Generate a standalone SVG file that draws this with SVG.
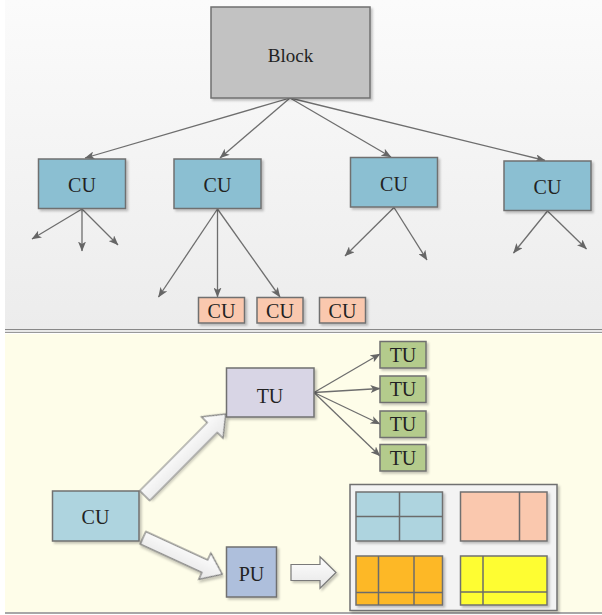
<svg xmlns="http://www.w3.org/2000/svg" width="602" height="615" viewBox="0 0 602 615">
<defs>
<linearGradient id="topbg" x1="0" y1="0" x2="0" y2="1">
<stop offset="0" stop-color="#fbfbfb"/>
<stop offset="1" stop-color="#ececec"/>
</linearGradient>
<linearGradient id="fat" x1="0" y1="0" x2="0" y2="1">
<stop offset="0" stop-color="#ffffff"/>
<stop offset="1" stop-color="#e6e6e6"/>
</linearGradient>
<filter id="sh" x="-10%" y="-10%" width="130%" height="130%">
<feDropShadow dx="2" dy="2" stdDeviation="1.2" flood-color="#000" flood-opacity="0.22"/>
</filter>
<marker id="ah" viewBox="0 0 10 8" refX="9.5" refY="4" markerWidth="10" markerHeight="8" markerUnits="userSpaceOnUse" orient="auto">
<path d="M0,0 L10,4 L0,8 L2.5,4 Z" fill="#666"/>
</marker>
<style>
.box{stroke:#707070;stroke-width:1.5;filter:url(#sh)}
.t{font-family:'Liberation Serif','Times New Roman',serif;font-size:20px;fill:#222;text-anchor:middle}
.s{font-size:19px}
.ln{stroke:#6e6e6e;stroke-width:1.3;fill:none;marker-end:url(#ah)}
.fat{fill:url(#fat);stroke:#7a7a7a;stroke-width:1.2;filter:url(#sh)}
.part{stroke:#6b6b6b;stroke-width:1.5;fill:none}
</style>
</defs>

<rect x="0" y="0" width="602" height="615" fill="#ffffff"/>
<rect x="5" y="0" width="597" height="329" fill="url(#topbg)"/>
<rect x="5" y="334" width="597" height="278" fill="#fefde9"/>
<line x1="5" y1="329.5" x2="602" y2="329.5" stroke="#888" stroke-width="1.2"/>
<line x1="5" y1="331" x2="602" y2="331" stroke="#d0d0d0" stroke-width="1"/>
<line x1="5" y1="332.5" x2="602" y2="332.5" stroke="#999" stroke-width="1.2"/>
<line x1="5" y1="613" x2="602" y2="613" stroke="#8a8a8a" stroke-width="1.5"/>

<g id="connectors">
<line class="ln" x1="290" y1="98" x2="85" y2="158"/>
<line class="ln" x1="290" y1="98" x2="220" y2="158"/>
<line class="ln" x1="290" y1="98" x2="391" y2="157"/>
<line class="ln" x1="290" y1="98" x2="545" y2="160.5"/>
<line class="ln" x1="82" y1="209" x2="32" y2="239"/>
<line class="ln" x1="82" y1="209" x2="82" y2="251"/>
<line class="ln" x1="82" y1="209" x2="118" y2="245"/>
<line class="ln" x1="217.5" y1="209" x2="158.5" y2="297"/>
<line class="ln" x1="217.5" y1="209" x2="217.5" y2="297"/>
<line class="ln" x1="217.5" y1="209" x2="280" y2="297"/>
<line class="ln" x1="394" y1="207.5" x2="345" y2="256"/>
<line class="ln" x1="394" y1="207.5" x2="427" y2="260"/>
<line class="ln" x1="547.5" y1="211" x2="513.5" y2="253"/>
<line class="ln" x1="547.5" y1="211" x2="586.5" y2="249"/>
<line class="ln" x1="314" y1="392.5" x2="380" y2="354"/>
<line class="ln" x1="314" y1="392.5" x2="380" y2="388.5"/>
<line class="ln" x1="314" y1="392.5" x2="380" y2="424"/>
<line class="ln" x1="314" y1="392.5" x2="380" y2="456"/>
<polygon class="fat" transform="translate(144.7,495.7) rotate(-45.25)" points="0,-7 96,-7 96,-15.3 115,0 96,15.3 96,7 0,7"/>
<polygon class="fat" transform="translate(143,537.8) rotate(24.7)" points="0,-6.8 68,-6.8 68,-14.6 87.3,0 68,14.6 68,6.8 0,6.8"/>
<polygon class="fat" transform="translate(291,572.5)" points="0,-8 29,-8 29,-15.8 45,0 29,15.8 29,8 0,8"/>
</g>

<g font-family="'Liberation Serif','Times New Roman',serif">
<g id="block"><rect class="box" x="211" y="7" width="159" height="91" fill="#c2c2c2"/><text class="t s" x="290.5" y="61.5">Block</text></g>

<g id="cu1"><rect class="box" x="38.5" y="159" width="87" height="49.5" fill="#8bbfd2"/><text class="t" x="82" y="191.5">CU</text></g>
<g id="cu2"><rect class="box" x="174" y="159" width="87" height="49.5" fill="#8bbfd2"/><text class="t" x="217.5" y="191.5">CU</text></g>
<g id="cu3"><rect class="box" x="350.5" y="157.5" width="87" height="49.5" fill="#8bbfd2"/><text class="t" x="394" y="190.5">CU</text></g>
<g id="cu4"><rect class="box" x="504" y="161" width="87" height="49.5" fill="#8bbfd2"/><text class="t" x="547.5" y="194">CU</text></g>

<g id="subcu1"><rect class="box" x="198.5" y="297.5" width="46" height="25.5" fill="#fac8ae"/><text class="t" x="221.5" y="318">CU</text></g>
<g id="subcu2"><rect class="box" x="257" y="297.5" width="46" height="25.5" fill="#fac8ae"/><text class="t" x="280" y="318">CU</text></g>
<g id="subcu3"><rect class="box" x="319.5" y="297.5" width="46" height="25.5" fill="#fac8ae"/><text class="t" x="342.5" y="318">CU</text></g>

<g id="tu"><rect class="box" x="226.5" y="368" width="87.5" height="49" fill="#d8d5e5"/><text class="t" x="270" y="402.5">TU</text></g>
<g id="tu1"><rect class="box" x="380" y="341.5" width="46" height="26.5" fill="#b4cb8c"/><text class="t" x="403" y="361.5">TU</text></g>
<g id="tu2"><rect class="box" x="380" y="376" width="46" height="26.5" fill="#b4cb8c"/><text class="t" x="403" y="396">TU</text></g>
<g id="tu3"><rect class="box" x="380" y="411" width="46" height="26.5" fill="#b4cb8c"/><text class="t" x="403" y="431">TU</text></g>
<g id="tu4"><rect class="box" x="380" y="444.5" width="46" height="26.5" fill="#b4cb8c"/><text class="t" x="403" y="464.5">TU</text></g>

<g id="cu"><rect class="box" x="52.5" y="491" width="86.5" height="50" fill="#aed4df"/><text class="t" x="95.5" y="524">CU</text></g>
<g id="pu"><rect class="box" x="226.5" y="547" width="50" height="50" fill="#aebfdc"/><text class="t" x="251.5" y="580.5">PU</text></g>
</g>

<g id="partitions">
<rect class="box" x="350" y="484.5" width="207" height="126" fill="#f3f3f3" stroke="#8c8c8c"/>
<rect class="box" x="356" y="492" width="86.5" height="49" fill="#aed4df"/>
<line class="part" x1="399.5" y1="492" x2="399.5" y2="541"/>
<line class="part" x1="356" y1="516.5" x2="442.5" y2="516.5"/>
<rect class="box" x="460.5" y="492" width="86.5" height="49" fill="#fac8ae"/>
<line class="part" x1="519.5" y1="492" x2="519.5" y2="541"/>
<rect class="box" x="356" y="556" width="86.5" height="49" fill="#fdb827"/>
<line class="part" x1="378.5" y1="556" x2="378.5" y2="605"/>
<line class="part" x1="414" y1="556" x2="414" y2="605"/>
<line class="part" x1="356" y1="592.5" x2="442.5" y2="592.5"/>
<rect class="box" x="460.5" y="556" width="86.5" height="49" fill="#fefd33"/>
<line class="part" x1="483" y1="556" x2="483" y2="605"/>
<line class="part" x1="460.5" y1="592" x2="547" y2="592"/>
</g>
</svg>
